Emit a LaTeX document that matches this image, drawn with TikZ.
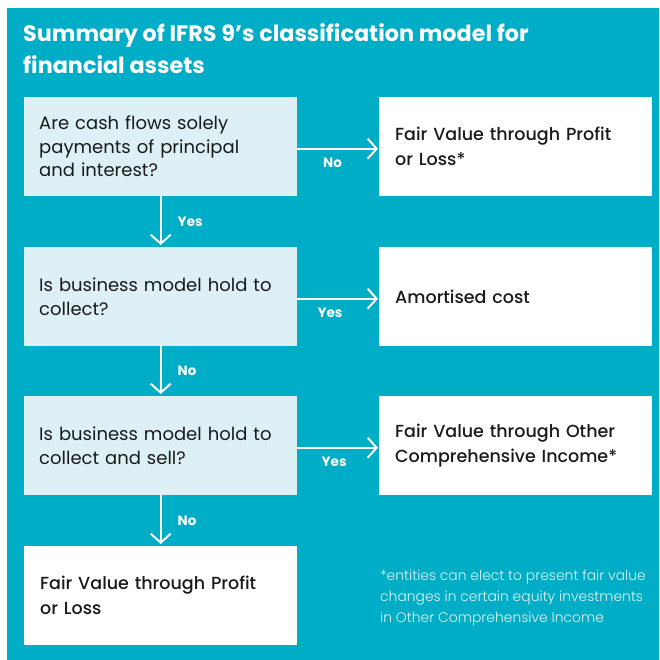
\documentclass[tikz,border=0pt]{standalone}
\usepackage{fontspec}
\setmainfont{Poppins}
\newfontfamily\medfont{Poppins Medium}
\newfontfamily\lightfont{Poppins Light}
\usetikzlibrary{arrows.meta}
\definecolor{teal}{HTML}{00ADC6}
\definecolor{qbox}{HTML}{DDF0F6}
\definecolor{ink}{HTML}{1A1A1A}
\definecolor{note}{HTML}{E2F4F8}
\begin{document}
\begin{tikzpicture}[x=1pt,y=-1pt,
  qnode/.style={rectangle, fill=qbox, minimum height=99pt, text width=243pt, inner xsep=15pt, inner ysep=0pt, align=left, text=ink, font=\fontsize{18}{23.5}\selectfont, anchor=north west},
  rnode/.style={rectangle, fill=white, minimum height=99pt, text width=241pt, inner xsep=16pt, inner ysep=0pt, align=left, text=ink, font=\medfont\fontsize{17.5}{25}\selectfont, anchor=north west},
  flow/.style={draw=white, line width=2pt, -{Straight Barb[length=9pt,width=20pt]}},
  lab/.style={text=white, font=\bfseries\fontsize{13.5}{15}\selectfont, inner sep=0pt}
]
\useasboundingbox (0,0) rectangle (659,660);
\fill[white] (0,0) rectangle (659,660);
\fill[teal] (7,8) rectangle (659,660);
\node[anchor=west, text=white, font=\bfseries\fontsize{22.3}{32}\selectfont, align=left, inner sep=0pt] (title) at (23,49) {Summary of IFRS 9’s classification model for\\financial assets};

\node[qnode] (q1) at (24,97) {Are cash flows solely\\payments of principal\\and interest?};
\node[qnode] (q2) at (24,247) {Is business model hold to\\collect?};
\node[qnode] (q3) at (24,396) {Is business model hold to\\collect and sell?};
\node[rnode] (r4) at (24,546) {Fair Value through Profit\\or Loss};

\node[rnode] (r1) at (379,97) {Fair Value through Profit\\or Loss*};
\node[rnode] (r2) at (379,247) {Amortised cost};
\node[rnode] (r3) at (379,396) {Fair Value through Other\\Comprehensive Income*};

\draw[flow, shorten >=1pt] ([yshift=-2pt]q1.east) -- node[lab, pos=0.43, below=8pt] {No} ([yshift=-2pt]r1.west);
\draw[flow, shorten >=1pt] ([yshift=-2pt]q2.east) -- node[lab, pos=0.40, below=8pt] {Yes} ([yshift=-2pt]r2.west);
\draw[flow, shorten >=1pt] ([yshift=-2pt]q3.east) -- node[lab, pos=0.45, below=8pt] {Yes} ([yshift=-2pt]r3.west);

\draw[flow, shorten >=2pt] (q1.south) -- node[lab, right=16pt] {Yes} (q2.north);
\draw[flow, shorten >=2pt] (q2.south) -- node[lab, right=16pt] {No} (q3.north);
\draw[flow, shorten >=2pt] (q3.south) -- node[lab, right=16pt] {No} (r4.north);

\node[anchor=west, text=note, font=\lightfont\fontsize{13.9}{21}\selectfont, align=left, inner sep=0pt] (fn) at (380,598) {*entities can elect to present fair value\\changes in certain equity investments\\in Other Comprehensive Income};
\end{tikzpicture}
\end{document}
